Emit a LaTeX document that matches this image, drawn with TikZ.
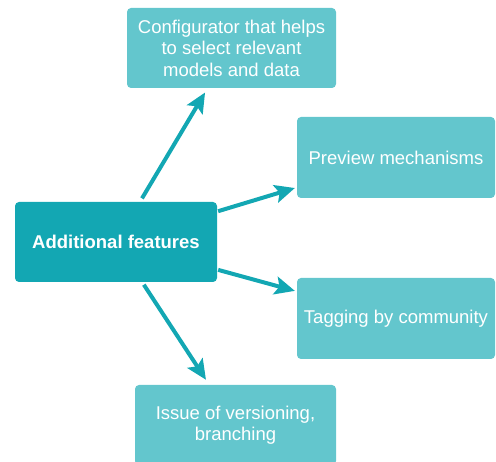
\documentclass[tikz,border=0pt]{standalone}
\usepackage{fontspec}
\setmainfont{Liberation Sans}
\usetikzlibrary{arrows.meta}
\definecolor{darkteal}{HTML}{13A7B3}
\definecolor{lightteal}{HTML}{63C6CD}
\tikzset{
  box/.style={rounded corners=4pt, inner sep=0pt, text=white, align=center,
    font=\fontsize{18.5}{21.5}\selectfont, minimum height=80pt},
  mainbox/.style={box, fill=darkteal, font=\fontsize{18.5}{21.5}\selectfont\bfseries},
  subbox/.style={box, fill=lightteal},
  conn/.style={draw=darkteal, line width=4pt,
    -{Stealth[length=20pt, width=18pt, inset=4pt]}},
}
\begin{document}
\begin{tikzpicture}[x=1pt, y=-1pt]
\useasboundingbox (0,0) rectangle (496,462);
\begin{scope}
\clip (0,0) rectangle (496,462);
\node[mainbox, minimum width=202pt] (main) at (116,242) {Additional features};
\node[subbox, minimum width=209pt] (top) at (231.5,48) {Configurator that helps\\to select relevant\\models and data};
\node[subbox, minimum width=198pt, minimum height=81pt] (prev) at (396,157.5) {Preview mechanisms};
\node[subbox, minimum width=198pt, minimum height=81pt] (tag) at (396,318.5) {Tagging by community};
\node[subbox, minimum width=201pt] (vers) at (235.5,425) {Issue of versioning,\\branching};
\draw[conn, shorten <=4pt, shorten >=5pt] (main) -- (top);
\draw[conn, shorten <=1pt, shorten >=2pt] (main) -- (prev);
\draw[conn, shorten <=1pt, shorten >=2pt] (main) -- (tag);
\draw[conn, shorten <=3pt, shorten >=6pt] (main) -- (vers);
\end{scope}
\end{tikzpicture}
\end{document}
